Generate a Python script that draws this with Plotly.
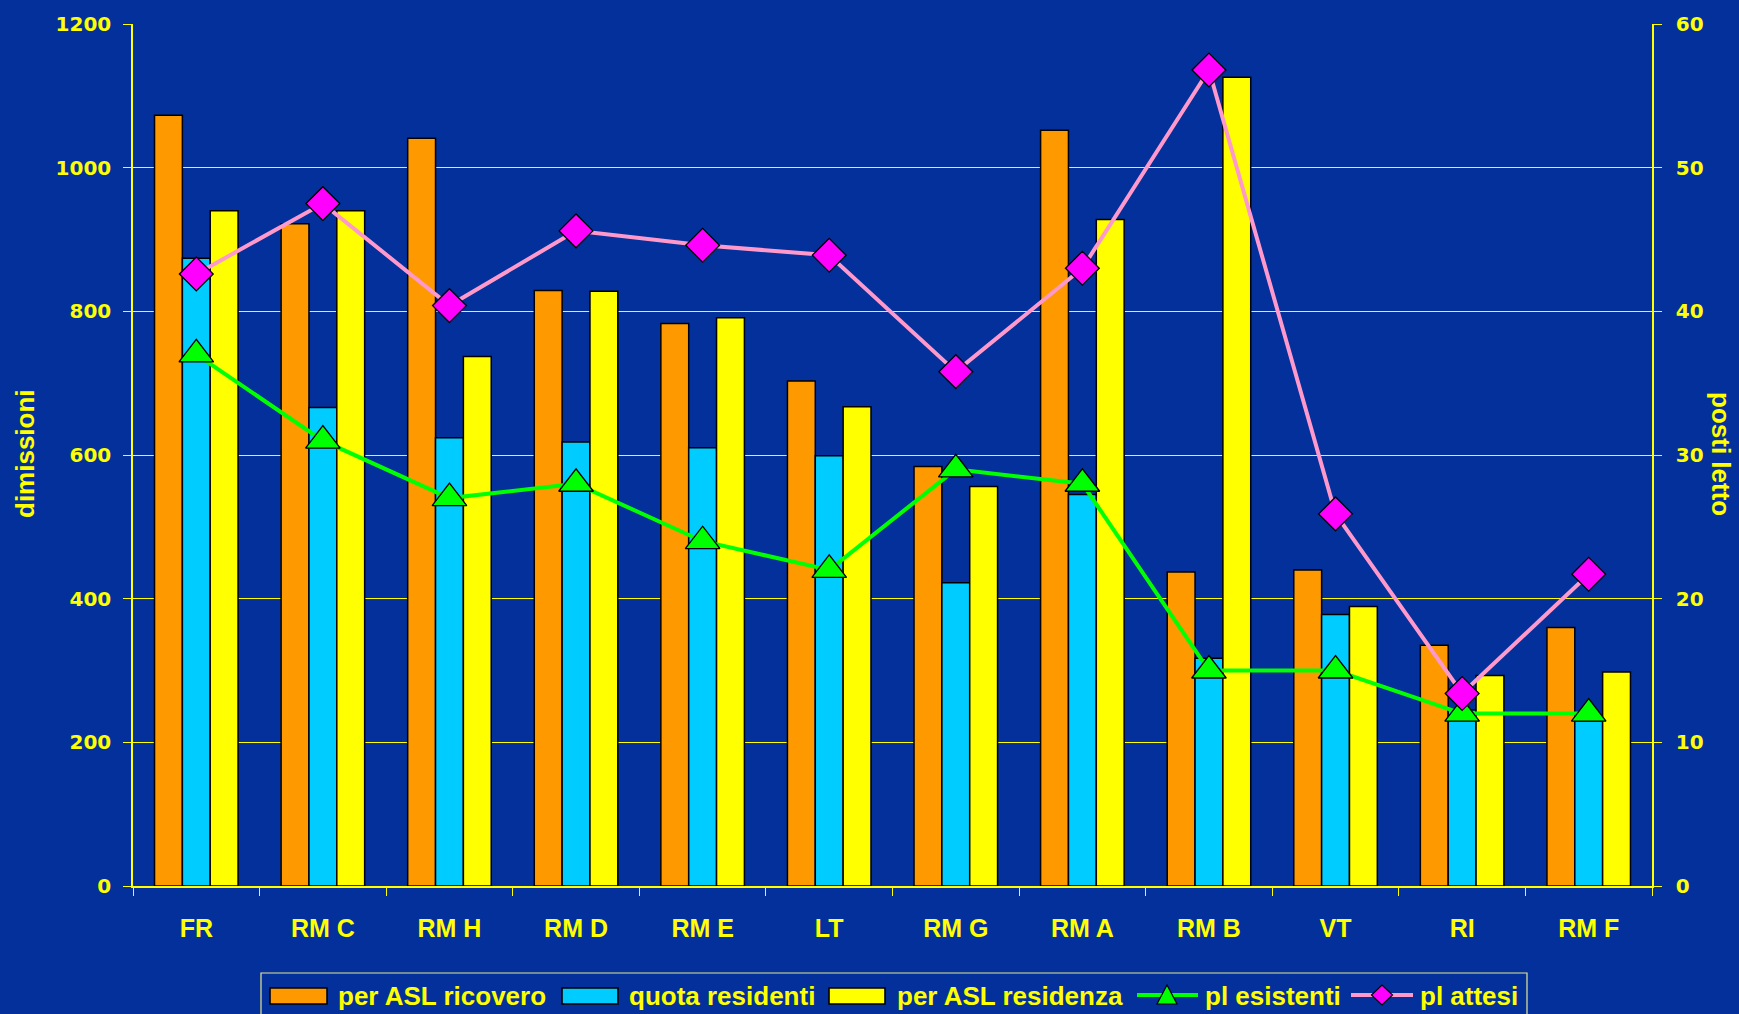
import plotly.graph_objects as go

categories = ["FR", "RM C", "RM H", "RM D", "RM E", "LT", "RM G", "RM A", "RM B", "VT", "RI", "RM F"]
per_asl_ricovero = [1073, 922, 1041, 829, 783, 703, 584, 1052, 437, 440, 335, 360]
quota_residenti = [874, 666, 624, 618, 610, 599, 422, 545, 317, 378, 245, 230]
per_asl_residenza = [940, 940, 737, 828, 791, 667, 556, 928, 1126, 389, 293, 298]
pl_esistenti = [37, 31, 27, 28, 24, 22, 29, 28, 15, 15, 12, 12]
pl_attesi = [42.6, 47.5, 40.4, 45.6, 44.6, 43.9, 35.8, 43.0, 56.8, 25.9, 13.4, 21.7]

series_names = ["per ASL ricovero", "quota residenti", "per ASL residenza", "pl esistenti", "pl attesi"]
bar_colors = ["#FF9900", "#00CCFF", "#FFFF00"]
line_colors = ["#00FF00", "#FF99CC"]
marker_colors = ["#00FF00", "#FF00FF"]

BG = "#03309A"
YEL = "#FFFF00"
bar_line = dict(color="black", width=1.5)

W, H = 1739, 1014
ML, MR, MT, MB = 133, 87, 24, 128
PW, PH = W - ML - MR, H - MT - MB


def px(x):
    return (x - ML) / PW


def py(y):
    return (H - MB - y) / PH


fig = go.Figure()
for vals, name, col in zip([per_asl_ricovero, quota_residenti, per_asl_residenza],
                           series_names[:3], bar_colors):
    fig.add_trace(go.Bar(x=categories, y=vals, name=name,
                         marker=dict(color=col, line=bar_line)))

fig.add_trace(go.Scatter(x=categories, y=pl_esistenti, name=series_names[3], yaxis="y2",
                         mode="lines+markers",
                         line=dict(color=line_colors[0], width=4),
                         marker=dict(symbol="triangle-up", size=30, color=marker_colors[0],
                                     line=dict(color="black", width=1.3))))
fig.add_trace(go.Scatter(x=categories, y=pl_attesi, name=series_names[4], yaxis="y2",
                         mode="lines+markers",
                         line=dict(color=line_colors[1], width=4),
                         marker=dict(symbol="diamond", size=26, color=marker_colors[1],
                                     line=dict(color="black", width=1.3))))

tickfont = dict(family="DejaVu Sans", size=20, color=YEL, weight="bold")
labfont = dict(family="Liberation Sans, Arial, sans-serif", size=26, color=YEL, weight="bold")

# ---- custom legend (box, symbols, texts) ----
shapes = []
annotations = []
shapes.append(dict(type="rect", xref="paper", yref="paper",
                   x0=px(261), x1=px(1527), y0=py(1030), y1=py(973),
                   line=dict(color="#E8E890", width=1.2), fillcolor=BG, layer="above"))
ymid = 996
rect_x = [(270, 327), (562, 618), (829, 885)]
text_x = [336, 627, 895, 1203, 1418]
for (a, b), col in zip(rect_x, bar_colors):
    shapes.append(dict(type="rect", xref="paper", yref="paper",
                       x0=px(a), x1=px(b), y0=py(1004), y1=py(988),
                       fillcolor=col, line=dict(color="black", width=1.6), layer="above"))
for (a, b), col in zip([(1137, 1198), (1351, 1413)], line_colors):
    shapes.append(dict(type="line", xref="paper", yref="paper",
                       x0=px(a), x1=px(b), y0=py(ymid - 1), y1=py(ymid - 1),
                       line=dict(color=col, width=4), layer="above"))
cx = 1167
tri = f"M {px(cx - 10)},{py(1004)} L {px(cx + 10)},{py(1004)} L {px(cx)},{py(985)} Z"
shapes.append(dict(type="path", xref="paper", yref="paper", path=tri,
                   fillcolor=marker_colors[0], line=dict(color="black", width=1.2), layer="above"))
cx = 1382
dia = (f"M {px(cx - 10.5)},{py(ymid - 1)} L {px(cx)},{py(ymid - 11)} "
       f"L {px(cx + 10.5)},{py(ymid - 1)} L {px(cx)},{py(ymid + 9)} Z")
shapes.append(dict(type="path", xref="paper", yref="paper", path=dia,
                   fillcolor=marker_colors[1], line=dict(color="black", width=1.2), layer="above"))
for name, tx in zip(series_names, text_x):
    annotations.append(dict(text=name, xref="paper", yref="paper", x=px(tx), y=py(ymid),
                            xanchor="left", yanchor="middle", showarrow=False,
                            font=labfont))

annotations.append(dict(text="dimissioni", xref="paper", yref="paper", x=px(25), y=py(454),
                        xanchor="center", yanchor="middle", textangle=-90, showarrow=False,
                        font=labfont))
annotations.append(dict(text="posti letto", xref="paper", yref="paper", x=px(1721), y=py(454),
                        xanchor="center", yanchor="middle", textangle=90, showarrow=False,
                        font=labfont))

fig.update_layout(
    width=W, height=H,
    paper_bgcolor=BG, plot_bgcolor=BG,
    margin=dict(l=ML, r=MR, t=MT, b=MB),
    barmode="group", bargap=0.34, bargroupgap=0,
    showlegend=False,
    xaxis=dict(range=[-0.5, len(categories) - 0.5], autorange=False,
               showgrid=False, showline=True, linecolor=YEL, linewidth=1.5,
               ticks="outside", tickson="boundaries", ticklen=8, tickcolor=YEL,
               tickfont=dict(family="Liberation Sans, Arial, sans-serif", size=25, color=YEL, weight="bold"),
               ticklabelstandoff=19),
    yaxis=dict(range=[0, 1200], dtick=200, showgrid=True, gridcolor=YEL, gridwidth=1,
               showline=True, linecolor=YEL, linewidth=1.5, zeroline=False,
               ticks="outside", ticklen=8, tickcolor=YEL, tickfont=tickfont,
               ticklabelstandoff=8),
    yaxis2=dict(range=[0, 60], dtick=10, overlaying="y", side="right", showgrid=False,
                showline=True, linecolor=YEL, linewidth=1.5, zeroline=False,
                ticks="outside", ticklen=8, tickcolor=YEL, tickfont=tickfont,
                ticklabelstandoff=10),
    shapes=shapes,
    annotations=annotations,
)

fig.write_html("out.html", config={"displayModeBar": False},
               post_script="document.body.style.margin='0';document.body.style.overflow='hidden';")
